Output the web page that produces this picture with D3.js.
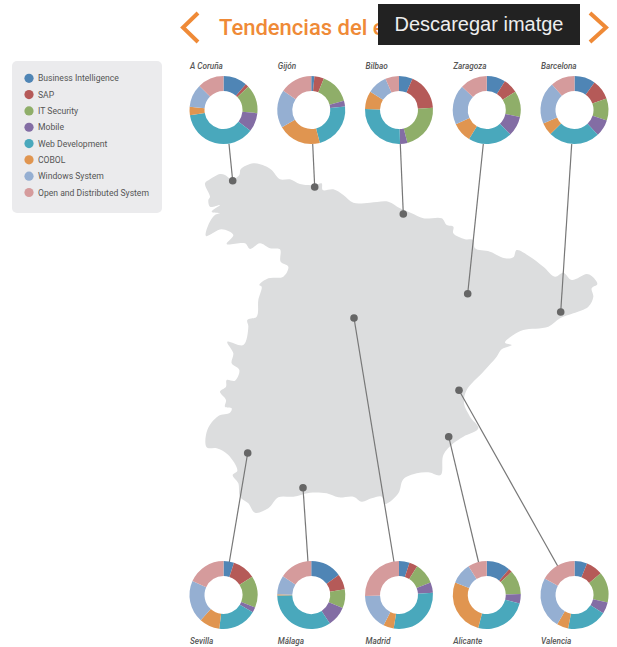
<!DOCTYPE html>
<html>
<head>
<meta charset="utf-8">
<script src="https://cdnjs.cloudflare.com/ajax/libs/d3/7.8.5/d3.min.js"></script>
<style>
html, body { margin: 0; padding: 0; background: #fff; }
svg { display: block; }
text { font-family: Roboto, "Noto Sans", sans-serif; }
</style>
</head>
<body>
<div id="chart"></div>
<script>
const categories = ['Business Intelligence', 'SAP', 'IT Security', 'Mobile', 'Web Development', 'COBOL', 'Windows System', 'Open and Distributed System'];
const colors = ['#4f85b5', '#b55a58', '#8fae69', '#836da4', '#49a8bc', '#e09550', '#95afd2', '#d59b9c'];

const topCities = ['A Coruña', 'Gijón', 'Bilbao', 'Zaragoza', 'Barcelona'];
const bottomCities = ['Sevilla', 'Málaga', 'Madrid', 'Alicante', 'Valencia'];

// share of each category per city, in legend order
const aCoruna = [11.4, 1.6, 13.5, 9, 37, 4, 11, 12.5];
const gijon = [1.5, 4.5, 14.5, 2.7, 22.5, 20.5, 18, 15.3];
const bilbao = [6.5, 17.5, 22, 3.5, 26, 8.5, 9.5, 6.5];
const zaragoza = [9, 7, 12.5, 9.5, 21, 9.5, 19, 13];
const barcelona = [10, 9.5, 10.5, 8, 24.5, 6, 20, 11.5];
const sevilla = [5, 11, 15, 2.5, 18.5, 9.7, 20, 18.3];
const malaga = [15, 7.3, 9, 9.5, 34, 0.5, 9, 15.7];
const madrid = [5, 4, 10, 5, 28.5, 5, 17, 25.5];
const alicante = [11.4, 1.7, 11.5, 4.5, 25, 27, 10, 9];
const valencia = [6, 8, 14.5, 5.5, 19, 5.5, 24.5, 17];
const cityValues = {
    'A Coruña': aCoruna, 'Gijón': gijon, 'Bilbao': bilbao, 'Zaragoza': zaragoza, 'Barcelona': barcelona,
    'Sevilla': sevilla, 'Málaga': malaga, 'Madrid': madrid, 'Alicante': alicante, 'Valencia': valencia
};

// where each city sits on the map, and where its leader meets the donut
const cityDots = {
    'A Coruña': [232.7, 180.7], 'Gijón': [314.7, 187], 'Bilbao': [403.3, 214], 'Zaragoza': [467.7, 293.7], 'Barcelona': [560.7, 312],
    'Sevilla': [247.7, 453], 'Málaga': [303, 487.7], 'Madrid': [354, 318], 'Alicante': [448.7, 436.7], 'Valencia': [459, 390.3]
};
const leaderEnds = {
    'A Coruña': [229, 144], 'Gijón': [312.7, 144], 'Bilbao': [400.3, 144], 'Zaragoza': [483.3, 144], 'Barcelona': [571.7, 144],
    'Sevilla': [229, 564], 'Málaga': [308, 562], 'Madrid': [394, 562], 'Alicante': [479, 564], 'Valencia': [557.7, 566]
};

// coastline and borders, traced clockwise from the north west
const outline = [[45,100],[60,88],[90,72],[105,75],[125,88],[148,75],[152,58],[190,40],[225,48],[245,60],[270,88],[300,88],[330,102],[375,105],[395,100],[398,120],[430,118],[460,135],[490,158],[540,158],[595,155],[630,175],[665,190],[700,205],[755,205],[770,225],[790,230],[790,250],[825,268],[850,270],[855,295],[900,305],[945,325],[970,322],[980,300],[1020,320],[1060,350],[1095,380],[1120,368],[1145,390],[1190,372],[1205,378],[1222,402],[1205,415],[1210,440],[1195,470],[1150,490],[1110,505],[1075,530],[1000,540],[970,555],[945,578],[965,585],[935,598],[920,620],[880,665],[830,720],[822,760],[840,800],[865,835],[820,860],[790,880],[760,915],[752,975],[715,967],[680,970],[640,988],[625,1030],[585,1062],[575,1040],[545,1045],[515,1055],[490,1040],[445,1042],[410,1030],[360,1028],[310,1040],[265,1042],[235,1075],[195,1088],[175,1060],[150,1040],[145,1000],[128,975],[142,962],[115,915],[80,895],[50,892],[52,840],[85,798],[120,788],[125,775],[105,770],[108,750],[90,725],[108,710],[110,690],[135,692],[148,660],[125,640],[130,610],[112,575],[160,585],[175,530],[172,510],[200,500],[205,450],[215,410],[208,405],[235,385],[280,380],[295,350],[272,335],[270,298],[240,295],[210,280],[180,297],[165,280],[110,282],[130,255],[95,238],[48,258],[55,225],[75,195],[90,190],[65,185],[90,165],[60,170],[55,150],[60,140]];

const width = 617;
const height = 647;

const svg = d3.select('#chart').append('svg')
    .attr('width', width)
    .attr('height', height);

// Map
let mapX = d3.scaleLinear().domain([0, 1260]).range([190, 610]);
let mapY = d3.scaleLinear().domain([0, 600]).range([150, 350]);

let mapLine = d3.line()
    .x(function(d) { return mapX(d[0]); })
    .y(function(d) { return mapY(d[1]); })
    .curve(d3.curveCatmullRomClosed.alpha(0.5));

svg.append('path')
    .attr('d', mapLine(outline))
    .style('fill', '#dcddde');

// Leaders and dots
let allCities = topCities.concat(bottomCities);

svg.selectAll('.leader')
    .data(allCities)
    .enter()
    .append('line')
    .attr('class', 'leader')
    .attr('x1', function(d) { return cityDots[d][0]; })
    .attr('y1', function(d) { return cityDots[d][1]; })
    .attr('x2', function(d) { return leaderEnds[d][0]; })
    .attr('y2', function(d) { return leaderEnds[d][1]; })
    .style('stroke', '#777')
    .style('stroke-width', 1.2);

svg.selectAll('.city-dot')
    .data(allCities)
    .enter()
    .append('circle')
    .attr('class', 'city-dot')
    .attr('cx', function(d) { return cityDots[d][0]; })
    .attr('cy', function(d) { return cityDots[d][1]; })
    .attr('r', 3.8)
    .style('fill', '#666');

// Donuts
let color = d3.scaleOrdinal().domain(categories).range(colors);
let pie = d3.pie().sort(null);
let arc = d3.arc().innerRadius(19).outerRadius(34);

let column = d3.scalePoint()
    .domain(d3.range(5))
    .range([223.5, 574.5]);

function drawRow(cities, cy, labelY) {
    cities.forEach(function(city, i) {
        let g = svg.append('g')
            .attr('transform', 'translate(' + column(i) + ',' + cy + ')');

        g.selectAll('path')
            .data(pie(cityValues[city]))
            .enter()
            .append('path')
            .attr('d', arc)
            .style('fill', function(d, j) { return color(categories[j]); });

        svg.append('text')
            .attr('x', column(i) - 33.5)
            .attr('y', labelY)
            .style('font-size', '8.2px')
            .style('font-weight', 500)
            .style('font-style', 'italic')
            .style('fill', '#555')
            .text(city);
    });
}

drawRow(topCities, 110, 69);
drawRow(bottomCities, 595, 644);

// Legend
svg.append('rect')
    .attr('x', 12)
    .attr('y', 61)
    .attr('width', 150)
    .attr('height', 152)
    .attr('rx', 5)
    .style('fill', '#ebebed');

let legendY = d3.scalePoint()
    .domain(categories)
    .range([78.3, 192.5]);

let legend = svg.selectAll('.legend-item')
    .data(categories)
    .enter()
    .append('g')
    .attr('class', 'legend-item')
    .attr('transform', function(d) { return 'translate(0,' + legendY(d) + ')'; });

legend.append('circle')
    .attr('cx', 29)
    .attr('r', 4.6)
    .style('fill', function(d) { return color(d); });

legend.append('text')
    .attr('x', 38)
    .attr('dy', '0.35em')
    .style('font-size', '8.6px')
    .style('fill', '#555')
    .text(function(d) { return d; });

// Title and arrows
svg.append('text')
    .attr('x', 219)
    .attr('y', 35)
    .style('font-size', '22px')
    .style('font-weight', 500)
    .style('fill', '#ef8a37')
    .text('Tendencias del e');

let arrow = d3.line();

[[[198, 13], [183, 27.5], [198, 42]], [[590, 13], [606, 27.5], [590, 42]]].forEach(function(points) {
    svg.append('path')
        .attr('d', arrow(points))
        .style('fill', 'none')
        .style('stroke', '#ef8a37')
        .style('stroke-width', 4);
});

// Download button on top of the title
svg.append('rect')
    .attr('x', 378)
    .attr('y', 4)
    .attr('width', 202)
    .attr('height', 41)
    .style('fill', '#222');

svg.append('text')
    .attr('x', 479)
    .attr('y', 31)
    .attr('text-anchor', 'middle')
    .style('font-family', '"Liberation Sans", Arial, sans-serif')
    .style('font-size', '20px')
    .style('fill', '#eee')
    .text('Descaregar imatge');
</script>
</body>
</html>
